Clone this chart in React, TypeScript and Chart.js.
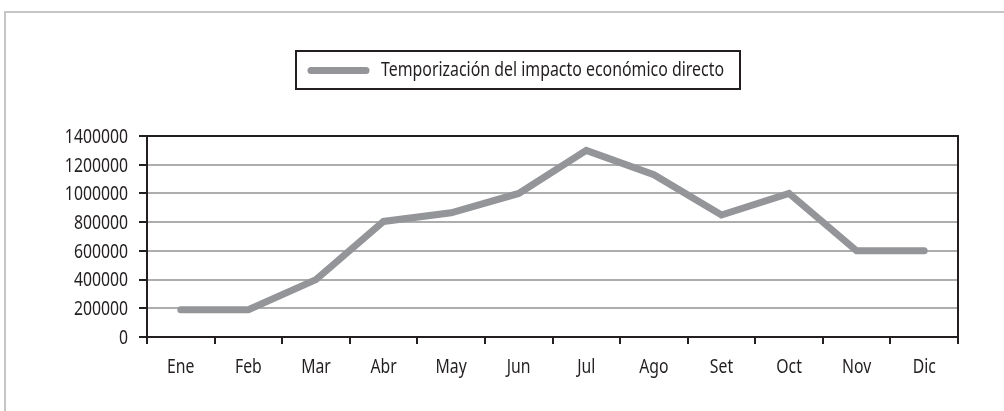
import React, { useEffect, useRef } from "react";
import { Chart, registerables } from "chart.js";

Chart.register(...registerables);

const categories = ["Ene", "Feb", "Mar", "Abr", "May", "Jun", "Jul", "Ago", "Set", "Oct", "Nov", "Dic"];
const impactValues = [190000, 190000, 400000, 805000, 865000, 1000000, 1300000, 1130000, 850000, 1000000, 600000, 600000];
const seriesLabel = "Temporización del impacto económico directo";
const yMin = 0;
const yMax = 1400000;
const yStep = 200000;

const FONT = '"Noto Sans", "Open Sans", sans-serif';
const FONT_SIZE = 19;
const SQUEEZE = 0.83;
const INK = "#231f20";
const LINE = "#939598";

function drawSqueezed(ctx: CanvasRenderingContext2D, text: string, x: number, y: number, align: CanvasTextAlign, sx: number) {
  ctx.save();
  ctx.translate(x, y);
  ctx.scale(sx, 1);
  ctx.textAlign = align;
  ctx.fillText(text, 0, 0);
  ctx.restore();
}

const decorPlugin = {
  id: "decor",
  beforeDraw(chart: any) {
    const ctx = chart.ctx as CanvasRenderingContext2D;
    const w = chart.width;
    const h = chart.height;
    ctx.save();
    ctx.fillStyle = "#ffffff";
    ctx.fillRect(0, 0, w, h);
    // outer frame
    ctx.strokeStyle = "#c6c6c6";
    ctx.lineWidth = 2;
    ctx.beginPath();
    ctx.moveTo(5, h + 2);
    ctx.lineTo(5, 12);
    ctx.lineTo(w + 2, 12);
    ctx.stroke();
    // legend box
    ctx.strokeStyle = INK;
    ctx.lineWidth = 2;
    ctx.strokeRect(296, 51, 444, 38);
    ctx.strokeStyle = LINE;
    ctx.lineWidth = 7;
    ctx.lineCap = "round";
    ctx.beginPath();
    ctx.moveTo(311, 70.5);
    ctx.lineTo(366, 70.5);
    ctx.stroke();
    ctx.fillStyle = INK;
    ctx.font = `${FONT_SIZE}px ${FONT}`;
    ctx.textBaseline = "middle";
    const label = chart.data.datasets[0].label as string;
    const tw = ctx.measureText(label).width;
    drawSqueezed(ctx, label, 381, 71, "left", 343 / tw);
    ctx.restore();
  },
  beforeDatasetsDraw(chart: any) {
    const { ctx, chartArea } = chart;
    ctx.save();
    ctx.strokeStyle = INK;
    ctx.lineWidth = 2;
    ctx.beginPath();
    ctx.moveTo(chartArea.left, chartArea.top);
    ctx.lineTo(chartArea.right, chartArea.top);
    ctx.lineTo(chartArea.right, chartArea.bottom + 7);
    ctx.stroke();
    ctx.restore();
  },
  afterDraw(chart: any) {
    const ctx = chart.ctx as CanvasRenderingContext2D;
    const ys = chart.scales.y;
    const xs = chart.scales.x;
    ctx.save();
    ctx.fillStyle = INK;
    ctx.font = `${FONT_SIZE}px ${FONT}`;
    ctx.textBaseline = "middle";
    ys.ticks.forEach((t: any) => {
      const y = ys.getPixelForValue(t.value);
      drawSqueezed(ctx, String(t.value), ys.right - 19, y + 1.5, "right", SQUEEZE);
    });
    (chart.data.labels as string[]).forEach((lab, i) => {
      const x = xs.getPixelForTick(i);
      drawSqueezed(ctx, lab, x, xs.top + 31, "center", SQUEEZE);
    });
    ctx.restore();
  },
};

export default function App() {
  const ref = useRef<HTMLCanvasElement | null>(null);

  useEffect(() => {
    if (!ref.current) return;
    const chart = new Chart(ref.current, {
      type: "line",
      data: {
        labels: categories,
        datasets: [
          {
            label: seriesLabel,
            data: impactValues,
            borderColor: LINE,
            backgroundColor: LINE,
            borderWidth: 7,
            borderCapStyle: "round",
            borderJoinStyle: "miter",
            pointRadius: 0,
            tension: 0,
            fill: false,
          },
        ],
      },
      options: {
        animation: false,
        responsive: false,
        devicePixelRatio: 1,
        layout: { padding: { left: 0, right: 46, top: 136, bottom: 0 } },
        plugins: { legend: { display: false }, tooltip: { enabled: false }, title: { display: false } },
        scales: {
          x: {
            type: "category",
            offset: true,
            afterFit(scale: any) {
              scale.height = 74;
            },
            grid: {
              offset: true,
              drawOnChartArea: false,
              drawTicks: true,
              tickLength: 7,
              tickColor: INK,
              lineWidth: 2,
            },
            border: { display: true, color: INK, width: 2 },
            ticks: { display: false, autoSkip: false, maxRotation: 0 },
          },
          y: {
            min: yMin,
            max: yMax,
            afterFit(scale: any) {
              scale.width = 147;
            },
            grid: {
              color: "#adadad",
              lineWidth: 2,
              drawTicks: true,
              tickLength: 8,
              tickColor: INK,
            },
            border: { display: true, color: INK, width: 2 },
            ticks: { display: false, stepSize: yStep },
          },
        },
      },
      plugins: [decorPlugin],
    });
    return () => chart.destroy();
  }, []);

  return (
    <div style={{ position: "absolute", left: 0, top: 0, width: 1004, height: 411 }}>
      <canvas ref={ref} width={1004} height={411} style={{ width: 1004, height: 411, display: "block" }} />
    </div>
  );
}
